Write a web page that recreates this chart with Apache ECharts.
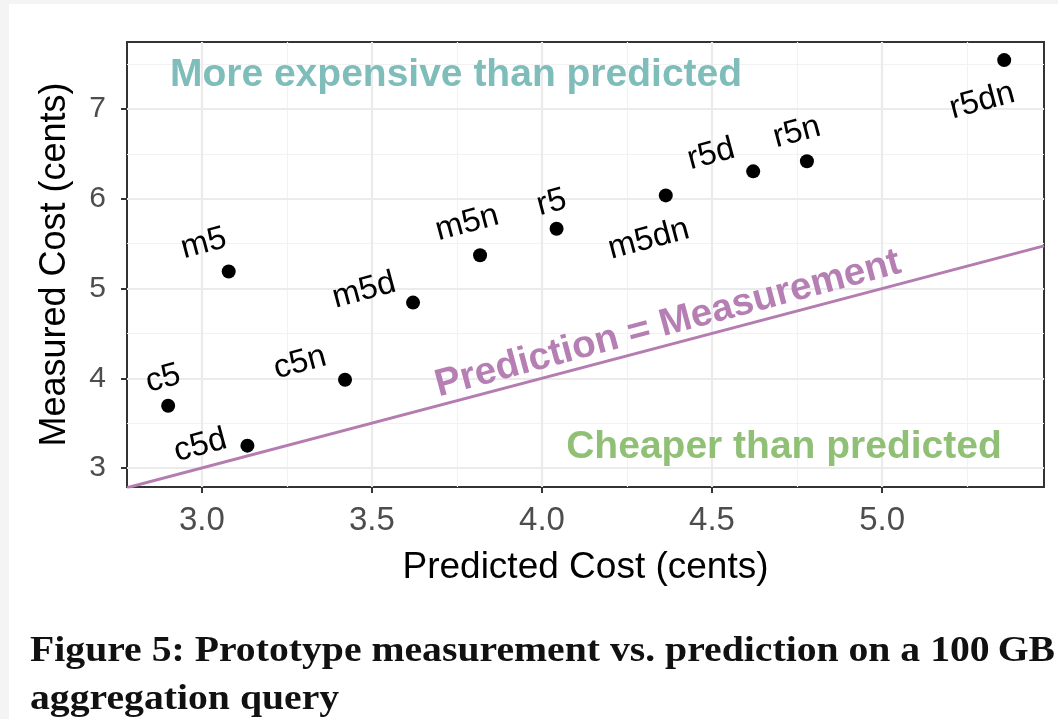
<!DOCTYPE html>
<html>
<head>
<meta charset="utf-8">
<script src="https://cdn.jsdelivr.net/npm/echarts@6/dist/echarts.min.js"></script>
<style>
  html, body { margin: 0; padding: 0; background: #ffffff; }
  #strip-left { position: absolute; left: 0; top: 0; width: 9px; height: 719px; background: #f4f4f4; }
  #strip-top { position: absolute; left: 0; top: 0; width: 1058px; height: 4px; background: #f4f4f4; }
  #chart { position: absolute; left: 0; top: 0; width: 1058px; height: 719px; }
</style>
</head>
<body>
<div id="strip-left"></div>
<div id="strip-top"></div>
<div id="chart"></div>
<script>
// Instance types and their predicted vs. measured cost (cents)
const instanceNames = ['c5', 'c5d', 'm5', 'c5n', 'm5d', 'm5n', 'r5', 'm5dn', 'r5d', 'r5n', 'r5dn'];
const predictedCost = [2.901, 3.134, 3.079, 3.421, 3.621, 3.818, 4.043, 4.364, 4.621, 4.779, 5.359];
const measuredCost  = [3.693, 3.249, 5.190, 3.983, 4.844, 5.372, 5.667, 6.039, 6.307, 6.419, 7.547];

// Axis ranges and tick positions
const xRange = [2.78, 5.476];
const yRange = [2.788, 7.749];
const xTicks = [3.0, 3.5, 4.0, 4.5, 5.0];
const yTicks = [3, 4, 5, 6, 7];
const xMinor = [3.25, 3.75, 4.25, 4.75, 5.25];
const yMinor = [3.5, 4.5, 5.5, 6.5, 7.5];

// Label nudges in pixels (from point centre to label centre)
const labelNudge = [
  [-5, -27], [-47, 0], [-25, -28], [-45, -17], [-49, -12], [-13, -32],
  [-5, -26], [-17, 44], [-42, -17], [-10, -29], [-22, 41]
];

const SANS = '"Liberation Sans", Arial, sans-serif';
const SERIF = '"Liberation Serif", "Times New Roman", serif';
const POINT_SIZE = 14;

const chart = echarts.init(document.getElementById('chart'), null, { renderer: 'canvas' });

// Grid lines (major + minor) as mark lines
const gridLines = []
  .concat(xMinor.map(v => ({ xAxis: v, lineStyle: { color: '#f2f2f2', width: 1.2, type: 'solid' } })))
  .concat(yMinor.map(v => ({ yAxis: v, lineStyle: { color: '#f2f2f2', width: 1.2, type: 'solid' } })))
  .concat(xTicks.map(v => ({ xAxis: v, lineStyle: { color: '#ebebeb', width: 2.2, type: 'solid' } })))
  .concat(yTicks.map(v => ({ yAxis: v, lineStyle: { color: '#ebebeb', width: 2.2, type: 'solid' } })));

const points = instanceNames.map((name, i) => ({
  name: name,
  value: [predictedCost[i], measuredCost[i]],
  label: {
    position: [POINT_SIZE / 2 + labelNudge[i][0], POINT_SIZE / 2 + labelNudge[i][1]]
  }
}));

// Caption, stretched to the text block width
const captionLines = [
  'Figure 5: Prototype measurement vs. prediction on a 100\u2009GB',
  'aggregation query'
];
const captionFont = 'bold 36px ' + SERIF;
const measureCtx = document.createElement('canvas').getContext('2d');
measureCtx.font = captionFont;
const captionScale = 1025 / measureCtx.measureText(captionLines[0]).width;

const option = {
  animation: false,
  backgroundColor: 'transparent',
  grid: {
    left: 127, right: 14, top: 42, bottom: 232,
    show: true,
    borderColor: '#333333',
    borderWidth: 2,
    backgroundColor: 'transparent'
  },
  xAxis: {
    type: 'value',
    min: xRange[0],
    max: xRange[1],
    name: 'Predicted Cost (cents)',
    nameLocation: 'middle',
    nameGap: 62,
    nameTextStyle: { fontFamily: SANS, fontSize: 37, color: '#000000' },
    axisLine: { show: false },
    axisTick: { show: true, customValues: xTicks, length: 6, lineStyle: { color: '#333333', width: 2 } },
    axisLabel: {
      customValues: xTicks,
      formatter: v => v.toFixed(1),
      fontFamily: SANS, fontSize: 33, color: '#4d4d4d', margin: 17
    },
    splitLine: { show: false },
    minorSplitLine: { show: false }
  },
  yAxis: {
    type: 'value',
    min: yRange[0],
    max: yRange[1],
    name: 'Measured Cost (cents)',
    nameLocation: 'middle',
    nameGap: 54,
    nameTextStyle: { fontFamily: SANS, fontSize: 36, color: '#000000' },
    axisLine: { show: false },
    axisTick: { show: true, customValues: yTicks, length: 6, lineStyle: { color: '#333333', width: 2 } },
    axisLabel: {
      customValues: yTicks,
      formatter: v => String(Math.round(v)),
      fontFamily: SANS, fontSize: 30, color: '#4d4d4d', margin: 21
    },
    splitLine: { show: false },
    minorSplitLine: { show: false }
  },
  series: [
    {
      type: 'line',
      data: [],
      z: 1,
      silent: true,
      markLine: {
        z: 1,
        silent: true,
        animation: false,
        symbol: ['none', 'none'],
        label: { show: false },
        emphasis: { disabled: true },
        data: gridLines
      }
    },
    {
      // Prediction = Measurement reference line
      type: 'line',
      z: 2,
      silent: true,
      symbol: 'none',
      clip: true,
      data: xRange.map(v => [v, v]),
      lineStyle: { color: '#b47cb0', width: 3 }
    },
    {
      type: 'scatter',
      z: 3,
      symbol: 'circle',
      symbolSize: POINT_SIZE,
      itemStyle: { color: '#000000', opacity: 1 },
      label: {
        show: true,
        formatter: p => p.name,
        align: 'center',
        verticalAlign: 'middle',
        rotate: 15,
        fontFamily: SANS,
        fontSize: 33,
        color: '#000000',
        opacity: 1
      },
      data: points
    }
  ],
  graphic: [
    {
      type: 'text', x: 456, y: 75, z: 10,
      style: { text: 'More expensive than predicted', fill: '#7fbdba', font: 'bold 39px ' + SANS, align: 'center', verticalAlign: 'middle' }
    },
    {
      type: 'text', x: 784, y: 447, z: 10,
      style: { text: 'Cheaper than predicted', fill: '#90c076', font: 'bold 39px ' + SANS, align: 'center', verticalAlign: 'middle' }
    },
    {
      type: 'text', x: 668, y: 324, z: 10, rotation: 15 * Math.PI / 180,
      style: { text: 'Prediction = Measurement', fill: '#b57fb3', font: 'bold 38.5px ' + SANS, align: 'center', verticalAlign: 'middle' }
    },
    {
      type: 'text', x: 30, y: 652, scaleX: captionScale, z: 10,
      style: { text: captionLines[0], fill: '#111111', font: captionFont, align: 'left', verticalAlign: 'middle' }
    },
    {
      type: 'text', x: 30, y: 700, scaleX: captionScale, z: 10,
      style: { text: captionLines[1], fill: '#111111', font: captionFont, align: 'left', verticalAlign: 'middle' }
    }
  ]
};

chart.setOption(option);
</script>
</body>
</html>
